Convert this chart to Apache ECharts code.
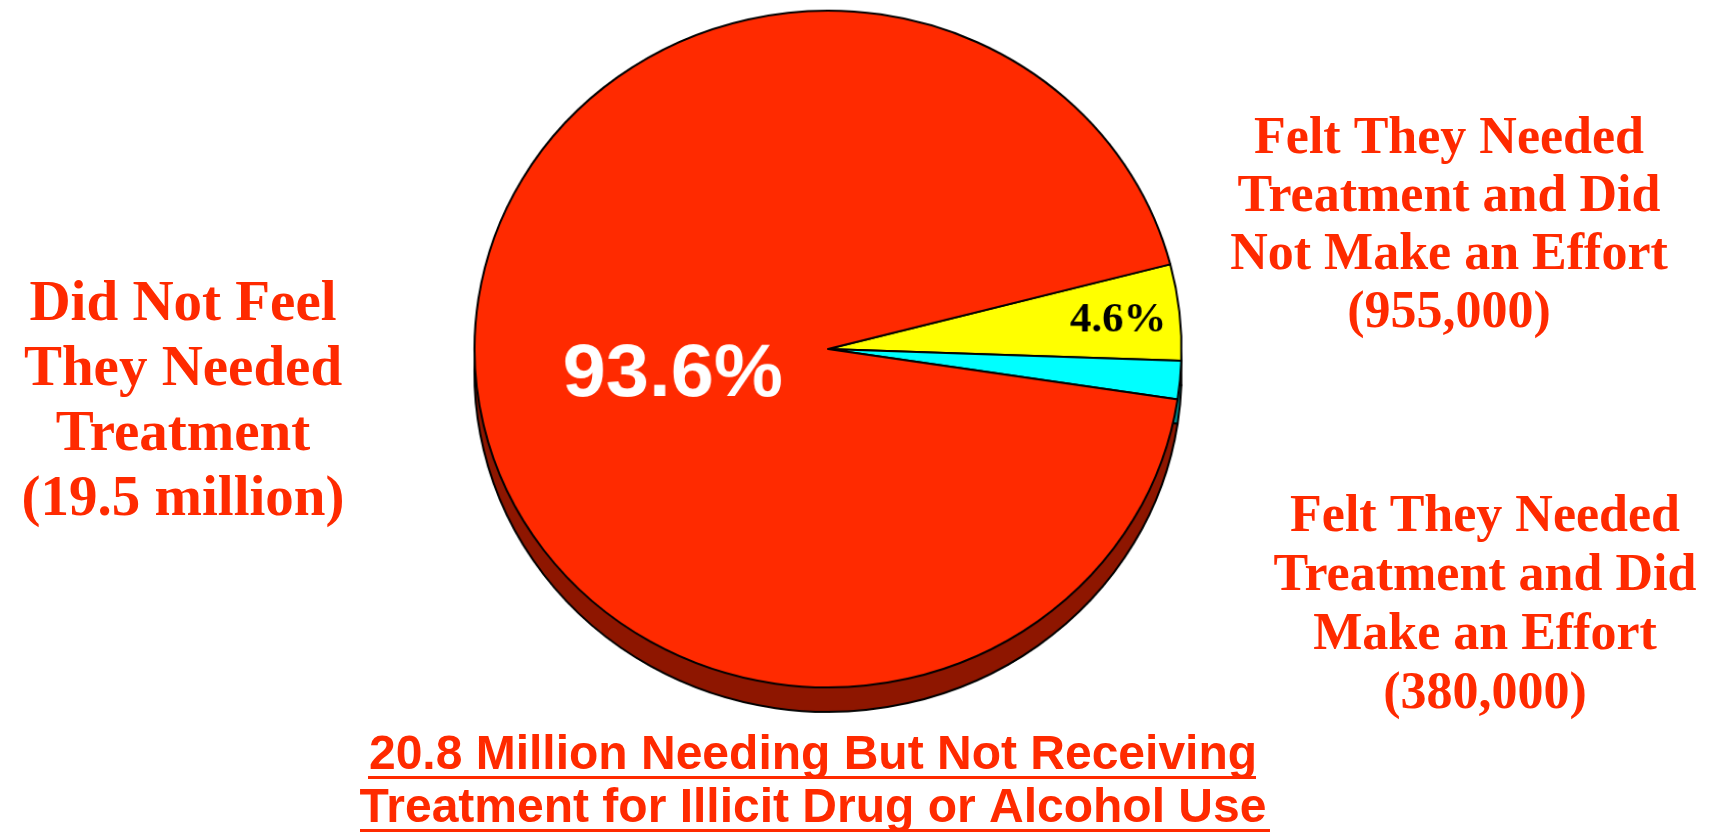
<!DOCTYPE html>
<html>
<head>
<meta charset="utf-8">
<script src="https://cdn.jsdelivr.net/npm/echarts@6/dist/echarts.min.js"></script>
<style>
  html, body { margin: 0; padding: 0; background: #ffffff; }
  #wrap { position: relative; width: 1713px; height: 835px; overflow: hidden; background: #ffffff; }
  #pie { position: absolute; left: 0; top: 0; width: 1713px; height: 835px;
         transform-origin: 828px 349px; transform: scale(1.0217, 0.978); }
  #text { position: absolute; left: 0; top: 0; width: 1713px; height: 835px; }
</style>
</head>
<body>
<div id="wrap">
  <div id="pie"></div>
  <div id="text"></div>
</div>
<script>
// ---- data ----
const categories = [
  'Felt They Needed Treatment and Did Not Make an Effort',
  'Felt They Needed Treatment and Did Make an Effort',
  'Did Not Feel They Needed Treatment'
];
const values = [955000, 380000, 19500000];
const sliceColors = ['#ffff00', '#00ffff', '#ff2a00'];
const sideColors = ['#8c8c00', '#008c8c', '#8e1600'];
const outerLabelLines = [
  ['Felt They Needed', 'Treatment and Did', 'Not Make an Effort', '(955,000)'],
  ['Felt They Needed', 'Treatment and Did', 'Make an Effort', '(380,000)'],
  ['Did Not Feel', 'They Needed', 'Treatment', '(19.5 million)']
];
const titleLines = [
  '20.8 Million Needing But Not Receiving',
  'Treatment for Illicit Drug or Alcohol Use'
];

// ---- pie chart (slightly flattened via CSS to match the tilted look) ----
const RED = '#ff2a00';
const pieChart = echarts.init(document.getElementById('pie'), null, { renderer: 'canvas' });

const mainData = categories.map((name, i) => ({
  name: name,
  value: values[i],
  itemStyle: { color: sliceColors[i] },
  label: i === 1 ? { show: false } : (i === 0 ? {
    show: true, color: '#000', fontFamily: 'Liberation Serif, Times New Roman, serif',
    fontWeight: 'bold', fontSize: 42
  } : {
    show: true, color: '#ffffff', fontFamily: 'Liberation Sans, Arial, sans-serif',
    fontWeight: 'bold', fontSize: 76,
    textShadowColor: '#c8c8c8', textShadowOffsetX: 3, textShadowOffsetY: 3, textShadowBlur: 0
  })
}));
const sideData = categories.map((name, i) => ({
  name: name,
  value: values[i],
  itemStyle: { color: sideColors[i] }
}));

const labelPos = { 0: [1112, 320], 2: [676, 376] };

pieChart.setOption({
  backgroundColor: 'transparent',
  animation: false,
  series: [
    {
      type: 'pie',
      name: 'side',
      center: [828, 374],
      radius: [0, 346],
      startAngle: 14.5,
      clockwise: true,
      silent: true,
      z: 1,
      label: { show: false },
      labelLine: { show: false },
      itemStyle: { borderColor: '#000', borderWidth: 2 },
      emphasis: { disabled: true },
      data: sideData
    },
    {
      type: 'pie',
      name: 'main',
      center: [828, 349],
      radius: [0, 346],
      startAngle: 14.5,
      clockwise: true,
      silent: true,
      z: 2,
      percentPrecision: 1,
      itemStyle: { borderColor: '#000', borderWidth: 2 },
      label: { show: true, position: 'inside', formatter: '{d}%' },
      labelLine: { show: false },
      labelLayout: function (params) {
        const p = labelPos[params.dataIndex];
        if (p) return { x: p[0], y: p[1], align: 'center', verticalAlign: 'middle' };
        return {};
      },
      emphasis: { disabled: true },
      data: mainData
    }
  ]
});

// ---- text layer ----
const textChart = echarts.init(document.getElementById('text'), null, { renderer: 'canvas' });
const graphics = [];
const outerPos = [
  { x: 1449, y: 227, size: 52, lh: 58 },
  { x: 1485, y: 606, size: 52, lh: 59 },
  { x: 183, y: 403, size: 57, lh: 65 }
];
outerLabelLines.forEach((lines, i) => {
  const p = outerPos[i];
  graphics.push({
    type: 'text', x: p.x, y: p.y, silent: true,
    style: {
      text: lines.join('\n'), fill: RED,
      fontFamily: 'Liberation Serif, Times New Roman, serif', fontWeight: 'bold',
      fontSize: p.size, lineHeight: p.lh,
      align: 'center', verticalAlign: 'middle'
    }
  });
});
const titleY = [756, 809];
titleLines.forEach((t, i) => {
  graphics.push({
    type: 'text', x: 813, y: titleY[i], silent: true,
    style: {
      text: t, fill: RED,
      fontFamily: 'Liberation Sans, Arial, sans-serif', fontWeight: 'bold',
      fontSize: 48, align: 'center', verticalAlign: 'middle'
    }
  });
});
graphics.push({ type: 'rect', silent: true, shape: { x: 368, y: 776, width: 888, height: 3 }, style: { fill: RED } });
graphics.push({ type: 'rect', silent: true, shape: { x: 360, y: 829, width: 910, height: 3 }, style: { fill: RED } });

textChart.setOption({
  backgroundColor: 'transparent',
  animation: false,
  graphic: graphics
});
</script>
</body>
</html>
